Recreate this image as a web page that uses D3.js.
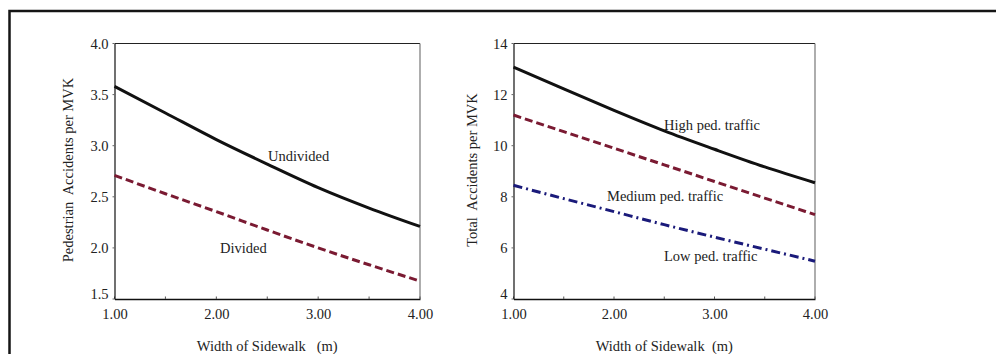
<!DOCTYPE html>
<html>
<head>
<meta charset="utf-8">
<script src="https://cdn.jsdelivr.net/npm/d3@7"></script>
<style>
  body { margin: 0; background: #fff; }
  svg { display: block; }
</style>
</head>
<body>
<svg id="chart" width="996" height="354"></svg>
<script>
// sidewalk widths (m)
const widths = [1.0, 1.5, 2.0, 2.5, 3.0, 3.5, 4.0];

// left panel: pedestrian accidents per MVK
const undivided = [3.58, 3.32, 3.06, 2.82, 2.59, 2.39, 2.21];
const divided = [2.71, 2.53, 2.355, 2.175, 2.0, 1.835, 1.675];

// right panel: total accidents per MVK
const highPed = [13.08, 12.22, 11.38, 10.58, 9.86, 9.17, 8.55];
const mediumPed = [11.2, 10.55, 9.9, 9.25, 8.6, 7.95, 7.3];
const lowPed = [8.45, 7.93, 7.42, 6.91, 6.42, 5.95, 5.48];

const xTicks = [1, 2, 3, 4];
const xMinor = [1.5, 2.5, 3.5];
const leftYTicks = [1.5, 2.0, 2.5, 3.0, 3.5, 4.0];
const rightYTicks = [4, 6, 8, 10, 12, 14];

const svg = d3.select("#chart");
const font = "'Liberation Serif', 'Times New Roman', serif";
const fs = 14.5;

// outer frame (cropped at right and bottom)
svg.append("path")
  .attr("d", "M9.5,360 L9.5,11 L1000,11")
  .attr("fill", "none")
  .attr("stroke", "#151515")
  .attr("stroke-width", 2.5);

function panel(opts) {
  const x = d3.scaleLinear().domain([1, 4]).range([opts.left, opts.right]);
  const y = d3.scaleLinear().domain(opts.yDomain).range([299, 43.5]);
  const g = svg.append("g").attr("font-family", font);

  // top and right frame lines
  g.append("line")
    .attr("x1", opts.left).attr("x2", opts.right)
    .attr("y1", 43.5).attr("y2", 43.5)
    .attr("stroke", "#222").attr("stroke-width", 1);
  g.append("line")
    .attr("x1", opts.right).attr("x2", opts.right)
    .attr("y1", 43.5).attr("y2", 299)
    .attr("stroke", "#777").attr("stroke-width", 1.2);

  // x axis
  const xa = g.append("g")
    .attr("transform", "translate(0,299)")
    .call(d3.axisBottom(x).tickValues(xTicks).tickSize(0).tickPadding(10)
      .tickFormat(d3.format(".2f")));
  xa.attr("font-size", fs).attr("font-family", font);
  xa.select(".domain").attr("stroke", "#111").attr("stroke-width", 1.6);
  xa.selectAll("text").attr("fill", "#222");
  g.selectAll(".xminor")
    .data(xTicks.concat(xMinor))
    .enter().append("line")
    .attr("x1", d => x(d)).attr("x2", d => x(d))
    .attr("y1", 299).attr("y2", 296.5)
    .attr("stroke", "#555").attr("stroke-width", 1);

  // y axis
  const ya = g.append("g")
    .attr("transform", `translate(${opts.left},0)`)
    .call(d3.axisLeft(y).tickValues(opts.yTicks).tickSize(0).tickPadding(6)
      .tickFormat(opts.yFormat));
  ya.attr("font-size", fs).attr("font-family", font);
  ya.select(".domain").attr("stroke", "#111").attr("stroke-width", 1.2);
  ya.selectAll("text").attr("fill", "#222");
  // lowest label sits a little above its tick, clear of the x labels
  ya.selectAll(".tick text").filter(d => d === opts.yDomain[0]).attr("dy", "-0.05em");
  g.selectAll(".ytick")
    .data(opts.yTicks)
    .enter().append("line")
    .attr("x1", opts.left).attr("x2", opts.left - 2)
    .attr("y1", d => y(d)).attr("y2", d => y(d))
    .attr("stroke", "#666");

  // titles
  g.append("text")
    .attr("x", (opts.left + opts.right) / 2)
    .attr("y", 351)
    .attr("text-anchor", "middle")
    .attr("font-size", fs)
    .attr("fill", "#222")
    .attr("xml:space", "preserve")
    .text(opts.xTitle);
  g.append("text")
    .attr("transform", `translate(${opts.yTitleX},170) rotate(-90)`)
    .attr("text-anchor", "middle")
    .attr("font-size", fs)
    .attr("fill", "#222")
    .attr("xml:space", "preserve")
    .text(opts.yTitle);

  const line = d3.line().curve(d3.curveMonotoneX)
    .x((d, i) => x(widths[i]))
    .y(d => y(d));

  opts.series.forEach(s => {
    g.append("path")
      .datum(s.values)
      .attr("d", line)
      .attr("fill", "none")
      .attr("stroke", s.color)
      .attr("stroke-width", 3)
      .attr("stroke-dasharray", s.dash);
  });

  opts.labels.forEach(l => {
    g.append("text")
      .attr("x", l.x)
      .attr("y", l.y)
      .attr("font-size", fs)
      .attr("fill", "#222")
      .text(l.text);
  });
}

panel({
  left: 114.5, right: 420,
  yDomain: [1.5, 4.0],
  yTicks: leftYTicks,
  yFormat: d3.format(".1f"),
  xTitle: "Width of Sidewalk   (m)",
  yTitle: "Pedestrian  Accidents per MVK",
  yTitleX: 73,
  series: [
    { values: undivided, color: "#111", dash: null },
    { values: divided, color: "#7a1a32", dash: "8,4" }
  ],
  labels: [
    { text: "Undivided", x: 268, y: 161 },
    { text: "Divided", x: 220, y: 253 }
  ]
});

panel({
  left: 513.5, right: 815,
  yDomain: [4, 14],
  yTicks: rightYTicks,
  yFormat: d3.format("d"),
  xTitle: "Width of Sidewalk  (m)",
  yTitle: "Total  Accidents per MVK",
  yTitleX: 477,
  series: [
    { values: highPed, color: "#111", dash: null },
    { values: mediumPed, color: "#7a1a32", dash: "8,4" },
    { values: lowPed, color: "#1a1a7a", dash: "9,4,2,4" }
  ],
  labels: [
    { text: "High ped. traffic", x: 664, y: 130 },
    { text: "Medium ped. traffic", x: 607, y: 201 },
    { text: "Low ped. traffic", x: 664, y: 261 }
  ]
});
</script>
</body>
</html>
